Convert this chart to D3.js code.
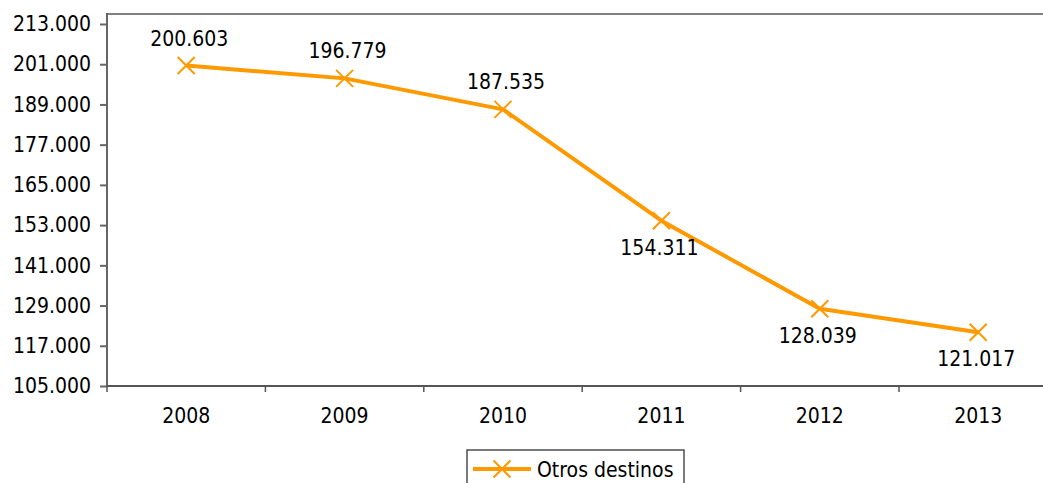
<!DOCTYPE html>
<html><head><meta charset="utf-8">
<script src="https://cdn.jsdelivr.net/npm/d3@7"></script>
<style>
body{margin:0;background:#fff;}
text{font-family:"DejaVu Sans Condensed","DejaVu Sans",sans-serif;font-stretch:condensed;font-size:21px;fill:#000;}
</style></head>
<body><svg id="c" width="1043" height="483"></svg>
<script>
const years = ["2008","2009","2010","2011","2012","2013"];
const values = [200603,196779,187535,154311,128039,121017];
const valueLabels = ["200.603","196.779","187.535","154.311","128.039","121.017"];
const labelSide = ["above","above","above","below","below","below"];
const yTicks = [105000,117000,129000,141000,153000,165000,177000,189000,201000,213000];
const seriesName = "Otros destinos";

(function(){
const svg = d3.select("#c");
const color = "#FF9900";
const pLeft = 107, pTop = 14, pBottom = 386, band = 158.4;
const x = d3.scaleBand().domain(years).range([pLeft, pLeft + band*years.length]);
const y = d3.scaleLinear().domain([105000,213000]).range([pBottom, 24]);
const tickFmt = v => (v/1000).toFixed(0) + ".000";

// top border
svg.append("line").attr("x1",pLeft).attr("x2",1043).attr("y1",pTop).attr("y2",pTop)
  .attr("stroke","#808080").attr("stroke-width",2);

// y axis
const ya = svg.append("g").attr("transform",`translate(${pLeft},0)`)
  .call(d3.axisLeft(y).tickValues(yTicks).tickFormat(tickFmt).tickSize(7).tickPadding(9));
ya.select(".domain").remove();
ya.selectAll(".tick line").attr("stroke","#666").attr("stroke-width",2);
ya.selectAll("text").style("font-size","21px");
svg.append("line").attr("x1",pLeft).attr("x2",pLeft).attr("y1",pTop-1).attr("y2",pBottom)
  .attr("stroke","#666").attr("stroke-width",2);

// x axis
const xa = svg.append("g").attr("transform",`translate(0,${pBottom})`)
  .call(d3.axisBottom(x).tickSize(0).tickPadding(22));
xa.select(".domain").remove();
xa.selectAll("text").style("font-size","21px");
svg.append("line").attr("x1",pLeft).attr("x2",1043).attr("y1",pBottom).attr("y2",pBottom)
  .attr("stroke","#555").attr("stroke-width",2);
const bounds = years.map(d => x(d)).concat([x(years[years.length-1]) + x.bandwidth()]);
svg.selectAll(".xt").data(bounds).enter().append("line")
  .attr("x1",d=>d).attr("x2",d=>d).attr("y1",pBottom).attr("y2",pBottom+6)
  .attr("stroke","#555").attr("stroke-width",1.5);

const cx = i => x(years[i]) + x.bandwidth()/2;
const data = values.map((v,i)=>({v,i}));

// line
svg.append("path").datum(data)
  .attr("d", d3.line().x(d=>cx(d.i)).y(d=>y(d.v)))
  .attr("fill","none").attr("stroke",color).attr("stroke-width",4).attr("stroke-linejoin","round");

// markers
const m = 8.5;
svg.selectAll(".mk").data(data).enter().append("path")
  .attr("transform",d=>`translate(${cx(d.i)},${y(d.v)})`)
  .attr("d",`M${-m},${-m}L${m},${m}M${-m},${m}L${m},${-m}`)
  .attr("stroke",color).attr("stroke-width",2).attr("fill","none");

// value labels
svg.selectAll(".vl").data(data).enter().append("text")
  .attr("x",d=>cx(d.i) + (labelSide[d.i]==="above"? 3 : -2))
  .attr("y",d=>y(d.v) + (labelSide[d.i]==="above" ? -20 : 34))
  .attr("text-anchor","middle")
  .text(d=>valueLabels[d.i]);

// legend
const lg = svg.append("g");
lg.append("rect").attr("x",467).attr("y",450).attr("width",217).attr("height",45)
  .attr("fill","#fff").attr("stroke","#333").attr("stroke-width",1.3);
lg.append("line").attr("x1",473).attr("x2",531).attr("y1",469).attr("y2",469)
  .attr("stroke",color).attr("stroke-width",4);
lg.append("path").attr("d",`M${502-m},${469-m}L${502+m},${469+m}M${502-m},${469+m}L${502+m},${469-m}`)
  .attr("stroke",color).attr("stroke-width",2);
lg.append("text").attr("x",537).attr("y",477).text(seriesName);
})();
</script></body></html>
